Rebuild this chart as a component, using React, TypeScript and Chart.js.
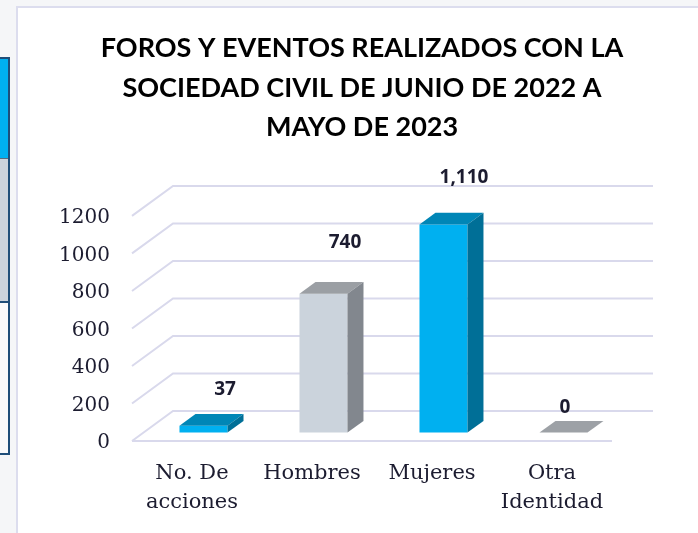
import React, { useEffect, useRef } from 'react';
import { Chart, registerables } from 'chart.js';

Chart.register(...registerables);

// ---- data ----
const titleLines = [
  'FOROS Y EVENTOS REALIZADOS CON LA',
  'SOCIEDAD CIVIL DE JUNIO DE 2022 A',
  'MAYO DE 2023',
];
const categories: (string | string[])[] = [['No. De', 'acciones'], 'Hombres', 'Mujeres', ['Otra', 'Identidad']];
const values = [37, 740, 1110, 0];
const valueLabels = ['37', '740', '1,110', '0'];
const yTickValues = [0, 200, 400, 600, 800, 1000, 1200];

// ---- styles ----
const frontColors = ['#00B0F0', '#CBD3DC', '#00B0F0', '#9DA1A6'];
const topColors = ['#0086B6', '#9B9FA4', '#0086B6', '#9DA1A6'];
const sideColors = ['#006F97', '#82878E', '#006F97', '#82878E'];
const labelNudgeX = [33, 33, 32, 13];
const labelNudgeY = [-44, -60, -55, -33];
const GRID_COLOR = '#D9D9EC';
const TEXT_COLOR = '#1C1C30';
const WALL_DX = 41;
const WALL_DY = -30;
const BAR_F0 = 0.28;
const BAR_F1 = 0.67;

const threeD = {
  id: 'threeD',
  beforeDatasetsDraw(chart: any) {
    const { ctx, chartArea: a } = chart;
    const y = chart.scales.y;
    ctx.save();
    ctx.strokeStyle = GRID_COLOR;
    ctx.lineWidth = 2;
    for (const v of yTickValues) {
      const py = y.getPixelForValue(v);
      ctx.beginPath();
      ctx.moveTo(a.left, py);
      ctx.lineTo(a.left + WALL_DX, py + WALL_DY);
      ctx.lineTo(a.right + WALL_DX, py + WALL_DY);
      ctx.stroke();
      if (v === 0) {
        ctx.beginPath();
        ctx.moveTo(a.left, py);
        ctx.lineTo(a.right, py);
        ctx.stroke();
      }
    }
    ctx.restore();
    ctx.save();
    ctx.translate(WALL_DX * BAR_F0, WALL_DY * BAR_F0);
  },
  afterDatasetsDraw(chart: any) {
    const ctx = chart.ctx;
    const meta = chart.getDatasetMeta(0);
    const dx = WALL_DX * (BAR_F1 - BAR_F0);
    const dy = WALL_DY * (BAR_F1 - BAR_F0);
    meta.data.forEach((el: any, i: number) => {
      const { x, y, base, width } = el.getProps(['x', 'y', 'base', 'width'], true);
      const xl = x - width / 2;
      const xr = x + width / 2;
      // top face
      ctx.fillStyle = topColors[i];
      ctx.beginPath();
      ctx.moveTo(xl, y);
      ctx.lineTo(xr, y);
      ctx.lineTo(xr + dx, y + dy);
      ctx.lineTo(xl + dx, y + dy);
      ctx.closePath();
      ctx.fill();
      // side face
      if (base - y > 0.5) {
        ctx.fillStyle = sideColors[i];
        ctx.beginPath();
        ctx.moveTo(xr, y);
        ctx.lineTo(xr + dx, y + dy);
        ctx.lineTo(xr + dx, base + dy);
        ctx.lineTo(xr, base);
        ctx.closePath();
        ctx.fill();
      }
    });
    ctx.restore();
    // value labels
    ctx.save();
    ctx.fillStyle = TEXT_COLOR;
    ctx.font = 'bold 19px "Open Sans"';
    ctx.textAlign = 'center';
    ctx.textBaseline = 'middle';
    const xs = chart.scales.x;
    const ys = chart.scales.y;
    values.forEach((v, i) => {
      const px = xs.getPixelForValue(i) + labelNudgeX[i];
      const py = ys.getPixelForValue(v) + labelNudgeY[i];
      ctx.fillText(valueLabels[i], px, py);
    });
    ctx.restore();
  },
};

export default function App() {
  const ref = useRef<HTMLCanvasElement>(null);
  useEffect(() => {
    if (!ref.current) return;
    const chart = new Chart(ref.current, {
      type: 'bar',
      data: {
        labels: categories as any,
        datasets: [
          {
            data: values,
            backgroundColor: frontColors,
            borderWidth: 0,
            categoryPercentage: 1,
            barPercentage: 0.4,
            clip: false as any,
          },
        ],
      },
      options: {
        responsive: false,
        animation: false,
        devicePixelRatio: 1,
        layout: { padding: { top: 10, left: 26, right: 0, bottom: 10 } },
        plugins: {
          legend: { display: false },
          tooltip: { enabled: false },
          title: {
            display: true,
            text: titleLines,
            color: '#000000',
            font: { family: 'Lato', weight: 'bold', size: 27, lineHeight: 1.463 },
            padding: { top: 19, bottom: 68.4 },
          },
        },
        scales: {
          x: {
            grid: { display: false, drawTicks: false },
            border: { display: false },
            ticks: {
              color: TEXT_COLOR,
              font: { family: 'DejaVu Serif', size: 21, lineHeight: 1.38 },
              padding: 18,
              autoSkip: false,
              maxRotation: 0,
            },
            afterFit: (s: any) => {
              s.height = 82;
            },
          },
          y: {
            min: 0,
            max: 1200,
            grid: { display: false, drawTicks: false },
            border: { display: false },
            ticks: {
              stepSize: 200,
              color: TEXT_COLOR,
              font: { family: 'DejaVu Serif', size: 20 },
              padding: 22,
              labelOffset: 2,
              callback: (v: any) => String(v),
            },
            afterFit: (s: any) => {
              s.width = 106;
            },
          },
          y2: {
            position: 'right',
            display: true,
            grid: { display: false, drawTicks: false },
            border: { display: false },
            ticks: { display: false },
            afterFit: (s: any) => {
              s.width = 86;
            },
          },
        },
      },
      plugins: [threeD],
    });
    return () => chart.destroy();
  }, []);

  return (
    <div style={{ position: 'fixed', left: 0, top: 0, width: 698, height: 533, background: '#F5F6F8', overflow: 'hidden' }}>
      <div
        style={{
          position: 'absolute',
          left: 16,
          top: 6,
          width: 700,
          height: 540,
          background: '#FFFFFF',
          borderLeft: '2px solid #DCDDEE',
          borderTop: '2px solid #DCDDEE',
        }}
      />
      <div
        style={{
          position: 'absolute',
          left: -4,
          top: 57,
          width: 10,
          height: 394,
          border: '2px solid #1F4E79',
          background: '#FAFAFB',
        }}
      >
        <div style={{ height: 99, background: '#00B0F0', borderBottom: '1px solid #5A6B7C' }} />
        <div style={{ height: 142, background: '#CBD3DC', borderBottom: '2px solid #1F4E79' }} />
      </div>
      <canvas ref={ref} width={698} height={533} style={{ position: 'absolute', left: 0, top: 0, width: 698, height: 533 }} />
    </div>
  );
}
